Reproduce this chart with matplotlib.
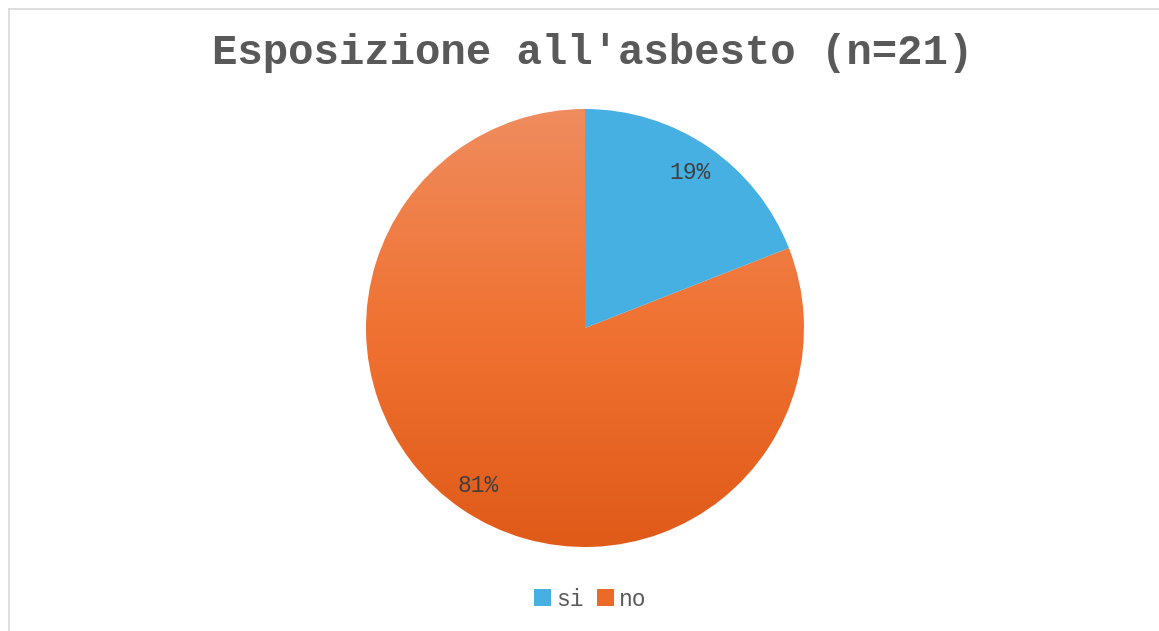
import matplotlib.pyplot as plt
import numpy as np
from matplotlib.colors import LinearSegmentedColormap
from matplotlib.patches import Patch
from matplotlib.lines import Line2D

labels = ["si", "no"]
counts = [4, 17]
colors = ["#45B0E1", "#F07030"]
label_pos = [(0.48, 0.71), (-0.49, -0.72)]

W, H = 1159, 631
fig = plt.figure(figsize=(W / 100, H / 100), dpi=100)
plt.rcParams['font.family'] = ['Liberation Mono', 'DejaVu Sans Mono']

# chart border (only top and left visible)
fig.add_artist(Line2D([8.5 / W, 8.5 / W], [0, 1 - 8.5 / H], color="#D9D9D9", lw=1.2))
fig.add_artist(Line2D([8.5 / W, 1], [1 - 8.5 / H, 1 - 8.5 / H], color="#D9D9D9", lw=1.2))

cx, cy, r = 585, 328, 219
ax = fig.add_axes([(cx - r) / W, (H - cy - r) / H, 2 * r / W, 2 * r / H])
wedges, _ = ax.pie(counts, colors=colors, startangle=90, counterclock=False,
                   radius=1.0, wedgeprops=dict(linewidth=0))

# vertical gradient on the "no" slice
cmap = LinearSegmentedColormap.from_list("og", ["#E05A18", "#F07232", "#EF8C5E"])
grad = np.linspace(0, 1, 256).reshape(-1, 1)
im = ax.imshow(grad, cmap=cmap, extent=(-1, 1, -1, 1), origin="lower",
               aspect="auto", zorder=0.5)
im.set_clip_path(wedges[1])
wedges[1].set_facecolor("none")

total = sum(counts)
for (x, y), c in zip(label_pos, counts):
    ax.text(x, y, f"{round(100 * c / total)}%", ha="center", va="center",
            fontsize=16.5, color="#404040")

ax.set_xlim(-1, 1)
ax.set_ylim(-1, 1)
ax.set_aspect("auto")
ax.axis("off")

fig.text(593 / W, 1 - 53 / H, "Esposizione all'asbesto (n=21)", ha="center", va="center",
         fontsize=30.5, fontweight="bold", color="#595959")

handles = [Patch(facecolor=colors[0], edgecolor="none"),
           Patch(facecolor="#EC6A28", edgecolor="none")]
fig.legend(handles, labels, loc="center", bbox_to_anchor=(590 / W, 1 - 599 / H),
           ncol=2, frameon=False, fontsize=16.5, labelcolor="#595959",
           handlelength=0.75, handleheight=0.75, handletextpad=0.2, columnspacing=0.6)

fig.savefig("out.png", dpi=100)
